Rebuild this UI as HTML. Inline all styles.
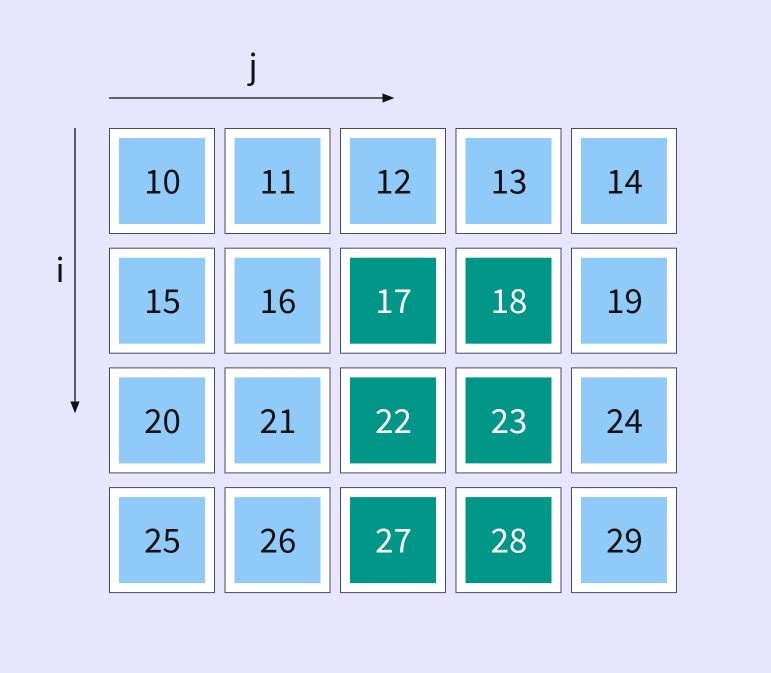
<!DOCTYPE html>
<html><head><meta charset="utf-8"><style>
html,body{margin:0;padding:0;background:#e8e6fd;}
svg{display:block;font-family:"Noto Sans CJK JP","Liberation Sans","DejaVu Sans",sans-serif;}
</style></head><body>
<svg id="chart" width="771" height="673" viewBox="0 0 771 673">
<defs><marker id="ah" viewBox="0 0 10 10" refX="9" refY="5" markerWidth="9" markerHeight="9" orient="auto"><path d="M0,1 L10,5 L0,9 z" fill="#111"/></marker></defs>
<rect width="771" height="673" fill="#e8e6fd"/>
<line x1="109" y1="98" x2="393" y2="98" stroke="#111" stroke-width="1.3" marker-end="url(#ah)"/>
<text x="253" y="78" font-size="33" text-anchor="middle" fill="#111">j</text>
<line x1="75" y1="128" x2="75" y2="412" stroke="#111" stroke-width="1.3" marker-end="url(#ah)"/>
<text x="60" y="282" font-size="33" text-anchor="middle" fill="#111">i</text>
<g id="cells"></g>
</svg>
<script>
const rowLabels = [0, 1, 2, 3];
const colLabels = [0, 1, 2, 3, 4];
const cellValues = [
  [10, 11, 12, 13, 14],
  [15, 16, 17, 18, 19],
  [20, 21, 22, 23, 24],
  [25, 26, 27, 28, 29]
];
const highlighted = [
  [0, 0, 0, 0, 0],
  [0, 0, 1, 1, 0],
  [0, 0, 1, 1, 0],
  [0, 0, 1, 1, 0]
];
const NS = "http://www.w3.org/2000/svg";
const g = document.getElementById("cells");
function xPos(j){ return 109 + j * 115.5; }
function yPos(i){ return 128 + i * 119.7; }
const W = 105, H = 105, inset = 10;
rowLabels.forEach(function(i){
  colLabels.forEach(function(j){
    const x = xPos(j), y = yPos(i);
    const hl = highlighted[i][j] === 1;
    const outer = document.createElementNS(NS, "rect");
    outer.setAttribute("x", x + 0.5); outer.setAttribute("y", y + 0.5);
    outer.setAttribute("width", W); outer.setAttribute("height", H);
    outer.setAttribute("fill", "#ffffff"); outer.setAttribute("stroke", "#4a4a5a"); outer.setAttribute("stroke-width", "1");
    
    
    g.appendChild(outer);
    const inner = document.createElementNS(NS, "rect");
    inner.setAttribute("x", x + inset); inner.setAttribute("y", y + inset);
    inner.setAttribute("width", W - 2 * inset + 1); inner.setAttribute("height", H - 2 * inset + 1);
    inner.setAttribute("fill", hl ? "#009688" : "#90caf9");
    
    
    g.appendChild(inner);
    const t = document.createElementNS(NS, "text");
    t.setAttribute("x", x + W / 2 + 1); t.setAttribute("y", y + H / 2 + 13);
    t.setAttribute("font-size", "33"); t.setAttribute("text-anchor", "middle");
    t.setAttribute("fill", hl ? "#ffffff" : "#111111");
    t.textContent = cellValues[i][j];
    
    
    g.appendChild(t);
  });
});
</script>
</body></html>
